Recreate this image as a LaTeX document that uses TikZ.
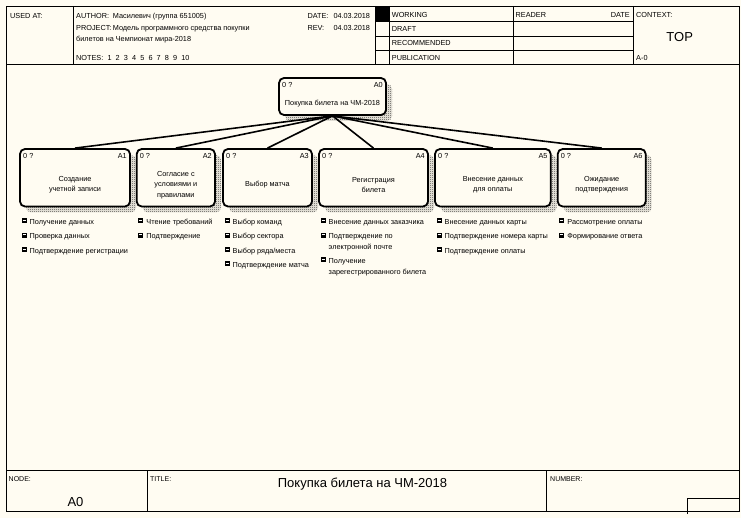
\documentclass[tikz,border=0pt]{standalone}
\usepackage{fontspec}
\setmainfont{Liberation Sans}
\usetikzlibrary{patterns.meta}
\definecolor{bg}{HTML}{FFFCF2}
\tikzdeclarepattern{name=checker, type=uncolored, bottom left={(0pt,0pt)}, top right={(2pt,2pt)}, tile size={(2pt,2pt)}, code={\fill (0pt,0pt) rectangle (1pt,1pt); \fill (1pt,1pt) rectangle (2pt,2pt);}}
\newcommand\fs{\fontsize{7.3}{10.3}\selectfont}
\newcommand\fsb{\fontsize{7}{9}\selectfont}
\newcommand\fsl{\fontsize{13}{15}\selectfont}
\newcommand\idefbox[6]{%
  \path[shade] (#2+6,#3+6) rectangle (#4+6,#5+6);
  \node[abox, minimum width={(#4-#2)*1pt}, minimum height={(#5-#3)*1pt}] (#1) at ({(#2+#4)/2},{(#3+#5)/2}) {};
  \node[lbl] (#1-n) at (#2+3,#3+10) {0 ?};
  \node[lblr] (#1-id) at (#4-3,#3+10) {#6};
}
\newcommand\itm[4]{%
  \fill[black] (#2+1.5,#3-6) rectangle (#2+6.5,#3-1);
  \draw[white, line width=0.6pt] (#2+2.5,#3-4.3) -- (#2+5.5,#3-4.3);
  \node[lbl] (#1) at (#2+9.5,#3) {#4};
}
\begin{document}
\begin{tikzpicture}[x=1pt,y=-1pt,
  frame/.style={line width=0.9pt},
  lbl/.style={inner sep=0pt, font=\fs, anchor=base west},
  lblr/.style={inner sep=0pt, font=\fs, anchor=base east},
  smalllbl/.style={inner sep=0pt, font=\fsb, anchor=base west},
  abox/.style={draw, line width=1.8pt, rounded corners=5pt, fill=bg, inner sep=0pt},
  shade/.style={pattern=checker, pattern color=black, rounded corners=5pt},
  boxtext/.style={inner sep=0pt, font=\fs, align=center},
  link/.style={line width=1.6pt}]
\fill[bg] (0,0) rectangle (741,518);
\useasboundingbox (0,0) rectangle (741,518);
% frame
\draw[frame] (6,6) rectangle (739.5,511);
\draw[frame] (6,64) -- (739.5,64);
\draw[frame] (73,6) -- (73,64);
\draw[frame] (375,6) -- (375,64);
\draw[frame] (389,6) -- (389,64);
\draw[frame] (513,6) -- (513,64);
\draw[frame] (633,6) -- (633,64);
\draw[frame] (375,21) -- (633,21);
\draw[frame] (375,36) -- (633,36);
\draw[frame] (375,50) -- (633,50);
\fill (375,6) rectangle (389,21);
\draw[frame] (6,470) -- (739.5,470);
\draw[frame] (147,470) -- (147,511);
\draw[frame] (546.7,470) -- (546.7,511);
\draw[frame] (687.5,514) -- (687.5,498) -- (739.5,498);
% header texts
\node[lbl] (usedat) at (10,18.3) {USED AT:};
\node[lbl] (author) at (76,18.3) {AUTHOR:};
\node[lbl] (authorv) at (112.7,18.3) {Масилевич (группа 651005)};
\node[lbl] (project) at (76,30.7) {PROJECT:};
\node[lbl] (projv) at (112.7,30.7) {Модель программного средства покупки};
\node[lbl] (projv2) at (76,41.7) {билетов на Чемпионат мира-2018};
\node[lbl] (notes) at (76,61) {NOTES:};
\foreach \i in {1,...,10} {\node[lbl] (note\i) at ({107.3+8.2*(\i-1)},61) {\i};}
\node[lbl] (date) at (307.3,18.3) {DATE:};
\node[lbl] (datev) at (333.3,18.3) {04.03.2018};
\node[lbl] (rev) at (307.3,30.7) {REV:};
\node[lbl] (revv) at (333.3,30.7) {04.03.2018};
\node[lbl] (working) at (391.7,17.5) {WORKING};
\node[lbl] (draft) at (391.7,31.7) {DRAFT};
\node[lbl] (recommended) at (391.7,46) {RECOMMENDED};
\node[lbl] (publication) at (391.7,60.3) {PUBLICATION};
\node[lbl] (reader) at (515.5,17.5) {READER};
\node[lblr] (rdate) at (630,17.5) {DATE};
\node[lbl] (context) at (636,17.5) {CONTEXT:};
\node[lbl] (actx) at (636,60.3) {A-0};
\node[inner sep=0pt, font=\fsl, anchor=base] (top) at (679.7,42) {TOP};
% bottom texts
\node[smalllbl] (nodelbl) at (8.5,481) {NODE:};
\node[inner sep=0pt, font=\fsl, anchor=base] (nodev) at (75.5,506.5) {A0};
\node[smalllbl] (titlelbl) at (150,481) {TITLE:};
\node[inner sep=0pt, font=\fsl, anchor=base] (title) at (362.5,487.5) {Покупка билета на ЧМ-2018};
\node[smalllbl] (numberlbl) at (550,481) {NUMBER:};
% boxes
\idefbox{a0}{279}{78}{386}{115}{A0}
\node[boxtext] (a0-t) at (332.5,103.3) {Покупка билета на ЧМ-2018};
\idefbox{a1}{20}{149}{130}{206.5}{A1}
\idefbox{a2}{136.7}{149}{215}{206.5}{A2}
\idefbox{a3}{223}{149}{312}{206.5}{A3}
\idefbox{a4}{319}{149}{428}{206.5}{A4}
\idefbox{a5}{435}{149}{550.7}{206.5}{A5}
\idefbox{a6}{557.7}{149}{645.7}{206.5}{A6}
\node[boxtext] (a1-t) at (75,185) {Создание\\учетной записи};
\node[boxtext] (a2-t) at (175.85,185) {Согласие с\\условиями и\\правилами};
\node[boxtext] (a3-t) at (267.5,185) {Выбор матча};
\node[boxtext] (a4-t) at (373.5,185) {Регистрация\\билета};
\node[boxtext] (a5-t) at (492.85,185) {Внесение данных\\для оплаты};
\node[boxtext] (a6-t) at (601.7,185) {Ожидание\\подтверждения};
% connectors
\foreach \c in {a1,a2,a3,a4,a5,a6} {\draw[link] (a0.south) -- (\c.north);}
% items
\itm{i11}{20}{224.5}{Получение данных}
\itm{i12}{20}{239}{Проверка данных}
\itm{i13}{20}{253.5}{Подтверждение регистрации}
\itm{i21}{136.7}{224.5}{Чтение требований}
\itm{i22}{136.7}{239}{Подтверждение}
\itm{i31}{223}{224.5}{Выбор команд}
\itm{i32}{223}{239}{Выбор сектора}
\itm{i33}{223}{253.5}{Выбор ряда/места}
\itm{i34}{223}{267.5}{Подтверждение матча}
\itm{i41}{319}{224.5}{Внесение данных заказчика}
\itm{i42}{319}{239}{Подтверждение по}
\node[lbl] (i42b) at (328.5,249.5) {электронной почте};
\itm{i43}{319}{263.5}{Получение}
\node[lbl] (i43b) at (328.5,274.5) {зарегестрированного билета};
\itm{i51}{435}{224.5}{Внесение данных карты}
\itm{i52}{435}{239}{Подтверждение номера карты}
\itm{i53}{435}{253.5}{Подтверждение оплаты}
\itm{i61}{557.7}{224.5}{Рассмотрение оплаты}
\itm{i62}{557.7}{239}{Формирование ответа}
\end{tikzpicture}
\end{document}
